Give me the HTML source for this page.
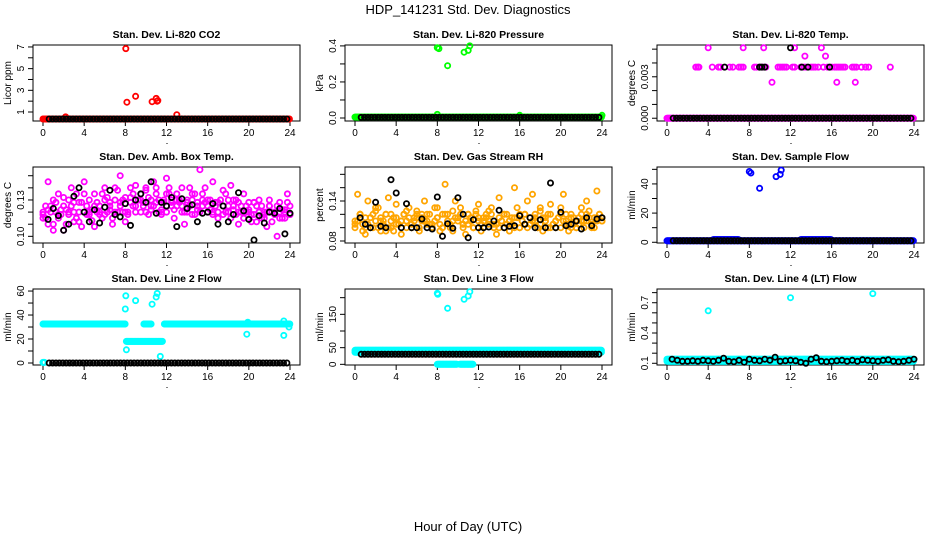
<!DOCTYPE html>
<html><head><meta charset="utf-8"><style>
body{margin:0;background:#fff;}
svg{display:block;font-family:"Liberation Sans",sans-serif;}
</style></head><body>
<svg id="chart" width="936" height="540" viewBox="0 0 936 540" xmlns="http://www.w3.org/2000/svg">
<rect width="936" height="540" fill="#fff"/>
<text x="468" y="14" text-anchor="middle" font-size="13">HDP_141231  Std. Dev. Diagnostics</text>
<text x="468" y="531" text-anchor="middle" font-size="13">Hour of Day (UTC)</text>
<g id="panels"></g>
</svg>
<script>
// ---------- data ----------
const xTicks = [0,4,8,12,16,20,24];
// Panel 1: CO2
const co2Runs = [[0,24,0.35]];
const co2OutT = [8.05,8.15,9.0,10.6,11.0,11.1,11.15,13.0,2.2];
const co2OutV = [6.85,1.9,2.45,1.95,2.25,2.0,2.05,0.75,0.55];
const co2BlackRuns = [[0.6,24,0.35]];
// Panel 2: Pressure
const presRuns = [[0,24,0.005]];
const presOutT = [8.0,8.15,9.0,10.6,11.0,11.15,24,8.0,16];
const presOutV = [0.39,0.385,0.29,0.365,0.375,0.4,0.015,0.02,0.015];
const presBlackRuns = [[0.6,24,0.003]];
// Panel 3: Li-820 Temp
const ltRuns = [[0,24,0]];
const ltMidT = [2.8,3.0,3.1,4.4,5.0,5.2,6.1,6.4,7.0,7.2,7.4,8.5,8.7,9.0,9.3,9.6,10.8,11.0,11.2,11.4,11.6,12.2,12.4,13.0,13.3,13.5,14.0,14.2,14.4,14.7,15.2,15.6,16.0,16.3,16.5,16.7,16.9,17.1,17.3,18.0,18.2,18.4,18.9,19.3,19.6,21.7];
const ltHighT = [4.0,7.4,9.4,12.4,15.0,13.4,15.4,10.2,16.5,18.3];
const ltHighV = [0.0051,0.0051,0.0051,0.0051,0.0051,0.0045,0.0045,0.0026,0.0026,0.0026];
const ltBlackT = [5.6,9.0,9.2,9.5,13.1,13.7,15.8,12.0];
const ltBlackV = [0.0037,0.0037,0.0037,0.0037,0.0037,0.0037,0.0037,0.0051];
const ltBlackRuns = [[0.6,24,0]];
// Panel 4: Amb box temp
const ambA = [0.12,0.115,0.145,0.125,0.11,0.12,0.135,0.118,0.105,0.122,0.13,0.14,0.128,0.115,0.12,0.108,0.145,0.125,0.118,0.113,0.135,0.128,0.12,0.115,0.14,0.132,0.125,0.11,0.12,0.138,0.15,0.13,0.112,0.12,0.128,0.135,0.142,0.13,0.12,0.125,0.14,0.132,0.125,0.145,0.135,0.12,0.118,0.13,0.148,0.14,0.128,0.122,0.135,0.13,0.125,0.11,0.12,0.14,0.13,0.118,0.125,0.155,0.135,0.128,0.12,0.13,0.145,0.125,0.115,0.13,0.138,0.12,0.125,0.142,0.13,0.118,0.11,0.125,0.135,0.12,0.128,0.112,0.118,0.125,0.13,0.115,0.12,0.108,0.125,0.12,0.118,0.1,0.128,0.122,0.115,0.135,0.125];
const ambB = [0.118,0.125,0.11,0.12,0.105,0.128,0.115,0.122,0.132,0.11,0.118,0.125,0.12,0.135,0.112,0.128,0.12,0.118,0.13,0.122,0.108,0.12,0.125,0.135,0.118,0.12,0.128,0.115,0.13,0.12,0.125,0.12,0.132,0.118,0.14,0.125,0.12,0.13,0.135,0.128,0.12,0.118,0.13,0.125,0.14,0.13,0.122,0.128,0.12,0.135,0.13,0.115,0.125,0.128,0.14,0.12,0.13,0.125,0.118,0.135,0.128,0.12,0.125,0.14,0.13,0.122,0.118,0.128,0.12,0.13,0.125,0.135,0.12,0.115,0.122,0.13,0.128,0.12,0.115,0.125,0.12,0.118,0.128,0.112,0.12,0.125,0.115,0.12,0.13,0.112,0.118,0.125,0.12,0.115,0.12,0.128,0.118];
const ambC = [0.115,0.122,0.13,0.118,0.125,0.12,0.112,0.128,0.135,0.12,0.125,0.118,0.13,0.122,0.14,0.128,0.12,0.132,0.125,0.13,0.138,0.122,0.128,0.12,0.135,0.125,0.13,0.12,0.128,0.135,0.122,0.13,0.125,0.12,0.128,0.118,0.13,0.125,0.12,0.115,0.122,0.128,0.12,0.118,0.125,0.12,0.115,0.122,0.118];
const ambBlack = [0.114,0.123,0.117,0.105,0.11,0.133,0.14,0.12,0.112,0.122,0.111,0.124,0.138,0.118,0.116,0.127,0.109,0.13,0.135,0.128,0.145,0.119,0.128,0.125,0.132,0.108,0.131,0.123,0.126,0.112,0.119,0.12,0.127,0.11,0.125,0.112,0.118,0.136,0.121,0.114,0.097,0.117,0.111,0.12,0.119,0.123,0.102,0.119];
// Panel 5: Gas stream RH
const rhA = [0.11,0.15,0.12,0.105,0.09,0.14,0.115,0.1,0.125,0.13,0.095,0.11,0.12,0.145,0.1,0.115,0.135,0.105,0.09,0.12,0.11,0.13,0.1,0.115,0.125,0.095,0.11,0.14,0.12,0.105,0.1,0.13,0.115,0.095,0.12,0.165,0.11,0.1,0.125,0.14,0.115,0.13,0.105,0.09,0.12,0.11,0.1,0.125,0.135,0.095,0.115,0.12,0.105,0.13,0.1,0.09,0.145,0.11,0.12,0.105,0.095,0.115,0.16,0.13,0.1,0.11,0.12,0.14,0.105,0.15,0.115,0.1,0.125,0.095,0.11,0.12,0.135,0.105,0.1,0.115,0.13,0.15,0.11,0.095,0.12,0.105,0.1,0.115,0.13,0.11,0.14,0.125,0.1,0.115,0.155,0.12,0.11];
const rhB = [0.1,0.11,0.12,0.095,0.115,0.105,0.1,0.12,0.11,0.1,0.115,0.105,0.12,0.1,0.11,0.095,0.115,0.105,0.11,0.12,0.1,0.115,0.105,0.11,0.12,0.1,0.115,0.11,0.105,0.12,0.1,0.11,0.115,0.105,0.1,0.12,0.11,0.105,0.095,0.115,0.11,0.12,0.1,0.11,0.105,0.115,0.1,0.12,0.11,0.105,0.1,0.115,0.11,0.12,0.1,0.105,0.115,0.11,0.1,0.12,0.11,0.105,0.1,0.115,0.12,0.11,0.105,0.1,0.115,0.11,0.12,0.1,0.105,0.115,0.11,0.1,0.12,0.105,0.11,0.115,0.1,0.11,0.12,0.105,0.1,0.115,0.11,0.105,0.12,0.1,0.11,0.115,0.105,0.1,0.11,0.12,0.115];
const rhC = [0.105,0.12,0.1,0.115,0.13,0.11,0.095,0.12,0.105,0.11,0.125,0.1,0.115,0.12,0.11,0.105,0.13,0.1,0.12,0.11,0.115,0.105,0.12,0.1,0.115,0.11,0.125,0.105,0.1,0.12,0.11,0.115,0.1,0.12,0.105,0.11,0.13,0.115,0.1,0.11,0.12,0.105,0.115,0.1,0.11,0.12,0.105,0.115,0.11];
const rhBlack = [0.115,0.105,0.1,0.138,0.102,0.1,0.172,0.152,0.1,0.136,0.1,0.1,0.113,0.1,0.098,0.146,0.087,0.106,0.099,0.145,0.12,0.085,0.112,0.1,0.1,0.101,0.11,0.126,0.1,0.102,0.103,0.118,0.105,0.115,0.1,0.112,0.1,0.167,0.1,0.123,0.103,0.105,0.11,0.098,0.115,0.103,0.113,0.115];
// Panel 6: Sample flow
const sfRuns = [[0,24,1],[4.5,7,1.8],[13,16,1.8]];
const sfOutT = [8.0,8.15,9.0,10.6,11.0,11.1];
const sfOutV = [48.5,47.5,37,45,46.5,49.5];
const sfBlackRuns = [[0.6,24,1]];
// Panel 7: Line 2 flow
const l2Runs = [[0,8.0,32.5],[9.8,10.5,32.5],[11.8,24,32.5],[8.1,11.6,18],[0,0.2,0.5]];
const l2OutT = [8.0,8.05,8.1,9.0,10.6,11.0,11.1,11.4,19.8,19.9,23.4,23.4,23.9];
const l2OutV = [45,56,11,52,49,55,58,5.5,24,34,23,35,30];
const l2BlackRuns = [[0.6,24,0]];
// Panel 8: Line 3 flow
const l3Runs = [[0,24,42],[0,24,36],[8.0,9.9,0],[10.2,11.5,0]];
const l3OutT = [8.0,8.05,9.0,10.6,11.0,11.15];
const l3OutV = [213,210,168,195,205,218];
const l3BlackRuns = [[0.6,24,30]];
// Panel 9: Line 4 (LT) flow
const l4Runs = [[0,24,0.12],[0,24,0.14]];
const l4OutT = [4.0,12.0,20.0];
const l4OutV = [0.62,0.75,0.79];
const l4Black = [0.14,0.13,0.12,0.12,0.125,0.12,0.13,0.125,0.12,0.13,0.15,0.12,0.115,0.13,0.11,0.14,0.13,0.125,0.14,0.13,0.16,0.12,0.125,0.13,0.125,0.11,0.1,0.14,0.155,0.12,0.115,0.12,0.125,0.13,0.12,0.13,0.12,0.135,0.13,0.125,0.12,0.13,0.135,0.12,0.115,0.12,0.13,0.14];

// ---------- layout ----------
const NS = "http://www.w3.org/2000/svg";
const root = document.getElementById('panels');
function mk(tag, attrs, parent){ const e=document.createElementNS(NS,tag); for(const k in attrs) e.setAttribute(k,attrs[k]); (parent||root).appendChild(e); return e; }

const panels = [
 {title:"Stan. Dev. Li-820 CO2", ylab:"Licor ppm", col:0,row:0, y0:0.17,y1:7.18, ticks:[1,2,3,4,5,6,7], labels:[1,3,5,7], fmt:v=>String(v)},
 {title:"Stan. Dev. Li-820 Pressure", ylab:"kPa", col:1,row:0, y0:-0.0167,y1:0.405, ticks:[0,0.1,0.2,0.3,0.4], labels:[0,0.2,0.4], fmt:v=>v.toFixed(1)},
 {title:"Stan. Dev. Li-820 Temp.", ylab:"degrees C", col:2,row:0, y0:-0.0002,y1:0.0053, ticks:[0,0.001,0.002,0.003,0.004,0.005], labels:[0,0.003], fmt:v=>v.toFixed(3)},
 {title:"Stan. Dev. Amb. Box Temp.", ylab:"degrees C", col:0,row:1, y0:0.0945,y1:0.1572, ticks:[0.10,0.11,0.12,0.13,0.14,0.15], labels:[0.10,0.13], fmt:v=>v.toFixed(2)},
 {title:"Stan. Dev. Gas Stream RH", ylab:"percent", col:1,row:1, y0:0.077,y1:0.191, ticks:[0.08,0.10,0.12,0.14,0.16,0.18], labels:[0.08,0.14], fmt:v=>v.toFixed(2)},
 {title:"Stan. Dev. Sample Flow", ylab:"ml/min", col:2,row:1, y0:-0.5,y1:51.6, ticks:[0,10,20,30,40,50], labels:[0,20,40], fmt:v=>String(v)},
 {title:"Stan. Dev. Line 2 Flow", ylab:"ml/min", col:0,row:2, y0:-1.67,y1:61.7, ticks:[0,10,20,30,40,50,60], labels:[0,20,40,60], fmt:v=>String(v)},
 {title:"Stan. Dev. Line 3 Flow", ylab:"ml/min", col:1,row:2, y0:-2,y1:226, ticks:[0,50,100,150,200], labels:[0,50,150], fmt:v=>String(v)},
 {title:"Stan. Dev. Line 4 (LT) Flow", ylab:"ml/min", col:2,row:2, y0:0.083,y1:0.836, ticks:[0.1,0.2,0.3,0.4,0.5,0.6,0.7,0.8], labels:[0.1,0.4,0.7], fmt:v=>v.toFixed(1)}
];

function setup(p){
  p.L = 33 + 312*p.col; p.R = p.L + 267;
  p.T = 45 + 122*p.row; p.B = p.T + 76;
  p.x = t => p.L + 10 + t*(247/24);
  p.y = v => p.B - (v - p.y0)/(p.y1 - p.y0)*(p.B - p.T);
  const g = mk('g',{});
  
  
  p.g = g;
  const box = mk('rect',{x:p.L,y:p.T,width:p.R-p.L,height:p.B-p.T,fill:'none',stroke:'#000','stroke-width':1},g);
  
  
  const tt = mk('text',{x:(p.L+p.R)/2,y:p.T-7,'text-anchor':'middle','font-size':10.5,'font-weight':'bold'},g);
  tt.textContent = p.title;
  
  
  xTicks.forEach(t=>{
    const X=p.x(t);
    mk('line',{x1:X,x2:X,y1:p.B,y2:p.B+5,stroke:'#000'},g);
    const lb=mk('text',{x:X,y:p.B+15,'text-anchor':'middle','font-size':10},g);
    lb.textContent=t;
    
    
  });
  mk('rect',{x:p.x(12),y:p.B+22,width:1,height:1,fill:'#000'},g);
  p.ticks.forEach(v=>{ const Y=p.y(v); mk('line',{x1:p.L-5,x2:p.L,y1:Y,y2:Y,stroke:'#000'},g); });
  p.labels.forEach(v=>{
    const Y=p.y(v), X=p.L-9;
    const lb=mk('text',{x:X,y:Y,'text-anchor':'middle','font-size':10,transform:`rotate(-90 ${X} ${Y})`},g);
    lb.textContent=p.fmt(v);
    
    
  });
  const yl=mk('text',{x:p.L-22,y:(p.T+p.B)/2,'text-anchor':'middle','font-size':10,transform:`rotate(-90 ${p.L-22} ${(p.T+p.B)/2})`},g);
  yl.textContent=p.ylab;
  
  
}
panels.forEach(setup);

function dot(p,t,v,color){
  const c=mk('circle',{cx:p.x(t).toFixed(1),cy:p.y(v).toFixed(1),r:2.6,fill:'none',stroke:color,'stroke-width':1.8},p.g);
  
  
}
function pts(p,T,V,color){ T.forEach((t,i)=>dot(p,t,V[i],color)); }
function runs(p,R,color,step){ R.forEach(r=>{ for(let t=r[0];t<=r[1]+1e-9;t+=step) dot(p,t,r[2],color); }); }
function series(p,V,color){ const n=V.length; V.forEach((v,i)=>dot(p,i*24/(n-1),v,color)); }
function blackSeries(p,V){ const n=V.length; V.forEach((v,i)=>dot(p,0.5+i*23.5/(n-1),v,'#000')); }

const RED='#ff0000', GRN='#00ff00', MAG='#ff00ff', BLU='#0000ff', CYN='#00ffff', ORG='#ffa500', BLK='#000';
runs(panels[0],co2Runs,RED,0.07); pts(panels[0],co2OutT,co2OutV,RED); runs(panels[0],co2BlackRuns,BLK,0.33);
runs(panels[1],presRuns,GRN,0.07); pts(panels[1],presOutT,presOutV,GRN); runs(panels[1],presBlackRuns,BLK,0.33);
runs(panels[2],ltRuns,MAG,0.07); pts(panels[2],ltMidT,ltMidT.map(()=>0.0037),MAG); pts(panels[2],ltHighT,ltHighV,MAG);
runs(panels[2],ltBlackRuns,BLK,0.33); pts(panels[2],ltBlackT,ltBlackV,BLK);
series(panels[3],ambA,MAG); series(panels[3],ambB,MAG); series(panels[3],ambC,MAG); blackSeries(panels[3],ambBlack);
series(panels[4],rhA,ORG); series(panels[4],rhB,ORG); series(panels[4],rhC,ORG); blackSeries(panels[4],rhBlack);
runs(panels[5],sfRuns,BLU,0.07); pts(panels[5],sfOutT,sfOutV,BLU); runs(panels[5],sfBlackRuns,BLK,0.33);
runs(panels[6],l2Runs,CYN,0.07); pts(panels[6],l2OutT,l2OutV,CYN); runs(panels[6],l2BlackRuns,BLK,0.33);
runs(panels[7],l3Runs,CYN,0.07); pts(panels[7],l3OutT,l3OutV,CYN); runs(panels[7],l3BlackRuns,BLK,0.33);
runs(panels[8],l4Runs,CYN,0.07); pts(panels[8],l4OutT,l4OutV,CYN); blackSeries(panels[8],l4Black);
</script>
</body></html>
